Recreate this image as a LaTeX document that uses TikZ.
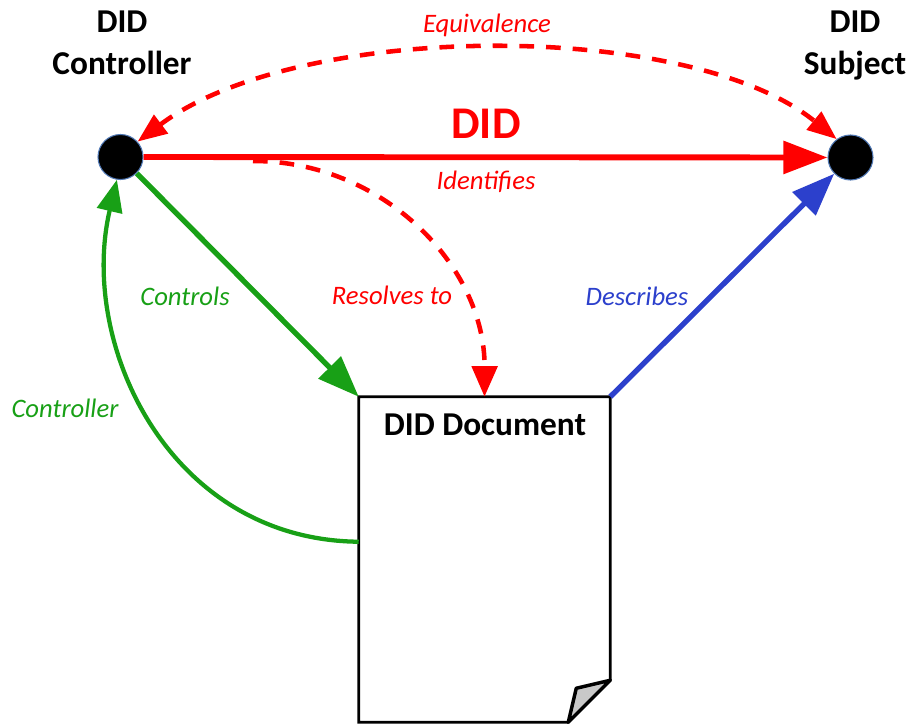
\documentclass[tikz,border=0pt]{standalone}
\usepackage{fontspec}
\setmainfont{Carlito}
\usetikzlibrary{arrows.meta,calc}
\definecolor{didred}{RGB}{255,0,0}
\definecolor{didgreen}{RGB}{24,160,22}
\definecolor{didblue}{RGB}{44,64,204}
\definecolor{rimblue}{RGB}{80,120,180}
\definecolor{foldgray}{RGB}{200,200,200}
\begin{document}
\begin{tikzpicture}[x=0.75pt,y=-0.75pt,
  party/.style={circle,fill=black,draw=rimblue,line width=0.8pt,minimum size=33.75pt,inner sep=0pt},
  title/.style={font=\fontsize{25}{31}\selectfont\bfseries,align=center,anchor=base,inner sep=0pt},
  lbl/.style={font=\fontsize{20}{24}\selectfont\itshape,inner sep=0pt,anchor=base},
  reddash/.style={dash pattern=on 11pt off 9pt},
]
\useasboundingbox (0,0) rectangle (908,725);

% the two parties
\node[party] (ctrl) at (120.5,157) {};
\node[party] (subj) at (850.5,157.5) {};
\node[title] (ctrltitle) at (122,74) {DID\\Controller};
\node[title] (subjtitle) at (855,74) {DID\\Subject};

% the document sheet with its curled corner
\node[minimum width=188.25pt,minimum height=243.75pt,inner sep=0pt] (doc) at (484.5,559.5) {};
\coordinate (foldtop) at ($(doc.south east)+(0,-42)$);
\coordinate (foldbot) at ($(doc.south east)+(-42,0)$);
\coordinate (foldin) at ($(doc.south east)+(-34,-34)$);
\draw[line width=2pt,line join=miter] (doc.north west) -- (doc.north east) -- (foldtop)
  -- (foldbot) -- (doc.south west) -- cycle;
\filldraw[fill=foldgray,line width=2.6pt,line join=round] (foldtop) -- (foldin) -- (foldbot) -- cycle;
\node[title] (doctitle) at (485,435) {DID Document};

% connectors
\draw[didred,line width=4.4pt,-{Triangle[length=33pt,width=24pt]}] (ctrl) -- (subj);
\draw[didred,line width=3.4pt,reddash,
  {Triangle[length=22pt,width=17pt]}-{Triangle[length=22pt,width=17pt]}]
  (ctrl.42) .. controls (300,20) and (690,20) .. (subj.127);
\coordinate (resstart) at (253,161);
\draw[didred,line width=3.4pt,reddash,-{Triangle[length=23pt,width=19pt]}]
  (resstart) .. controls (382,161) and (485,265) .. (doc.north);
\draw[didgreen,line width=4pt,-{Triangle[length=31pt,width=23pt]}] (ctrl) -- (doc.north west);
\coordinate (backstart) at ($(doc.north west)+(0,145)$);
\draw[didgreen,line width=3.2pt,-{Triangle[length=24pt,width=19pt]}]
  (backstart) .. controls (170,540) and (78,345) .. (ctrl.261);
\draw[didblue,line width=4pt,-{Triangle[length=32pt,width=24pt]}] (doc.north east) -- (subj);

% labels
\node[lbl,text=didred] (eqlbl) at (487,32) {Equivalence};
\node[font=\fontsize{34}{40}\selectfont\bfseries,text=didred,inner sep=0pt,anchor=base] (didlbl) at (486,138) {DID};
\node[lbl,text=didred] (idlbl) at (486,189) {Identifies};
\node[lbl,text=didgreen] (ctlbl) at (185,305) {Controls};
\node[lbl,text=didred] (reslbl) at (392,304) {Resolves to};
\node[lbl,text=didblue] (desclbl) at (637,305) {Describes};
\node[lbl,text=didgreen] (backlbl) at (65,417) {Controller};
\end{tikzpicture}
\end{document}
